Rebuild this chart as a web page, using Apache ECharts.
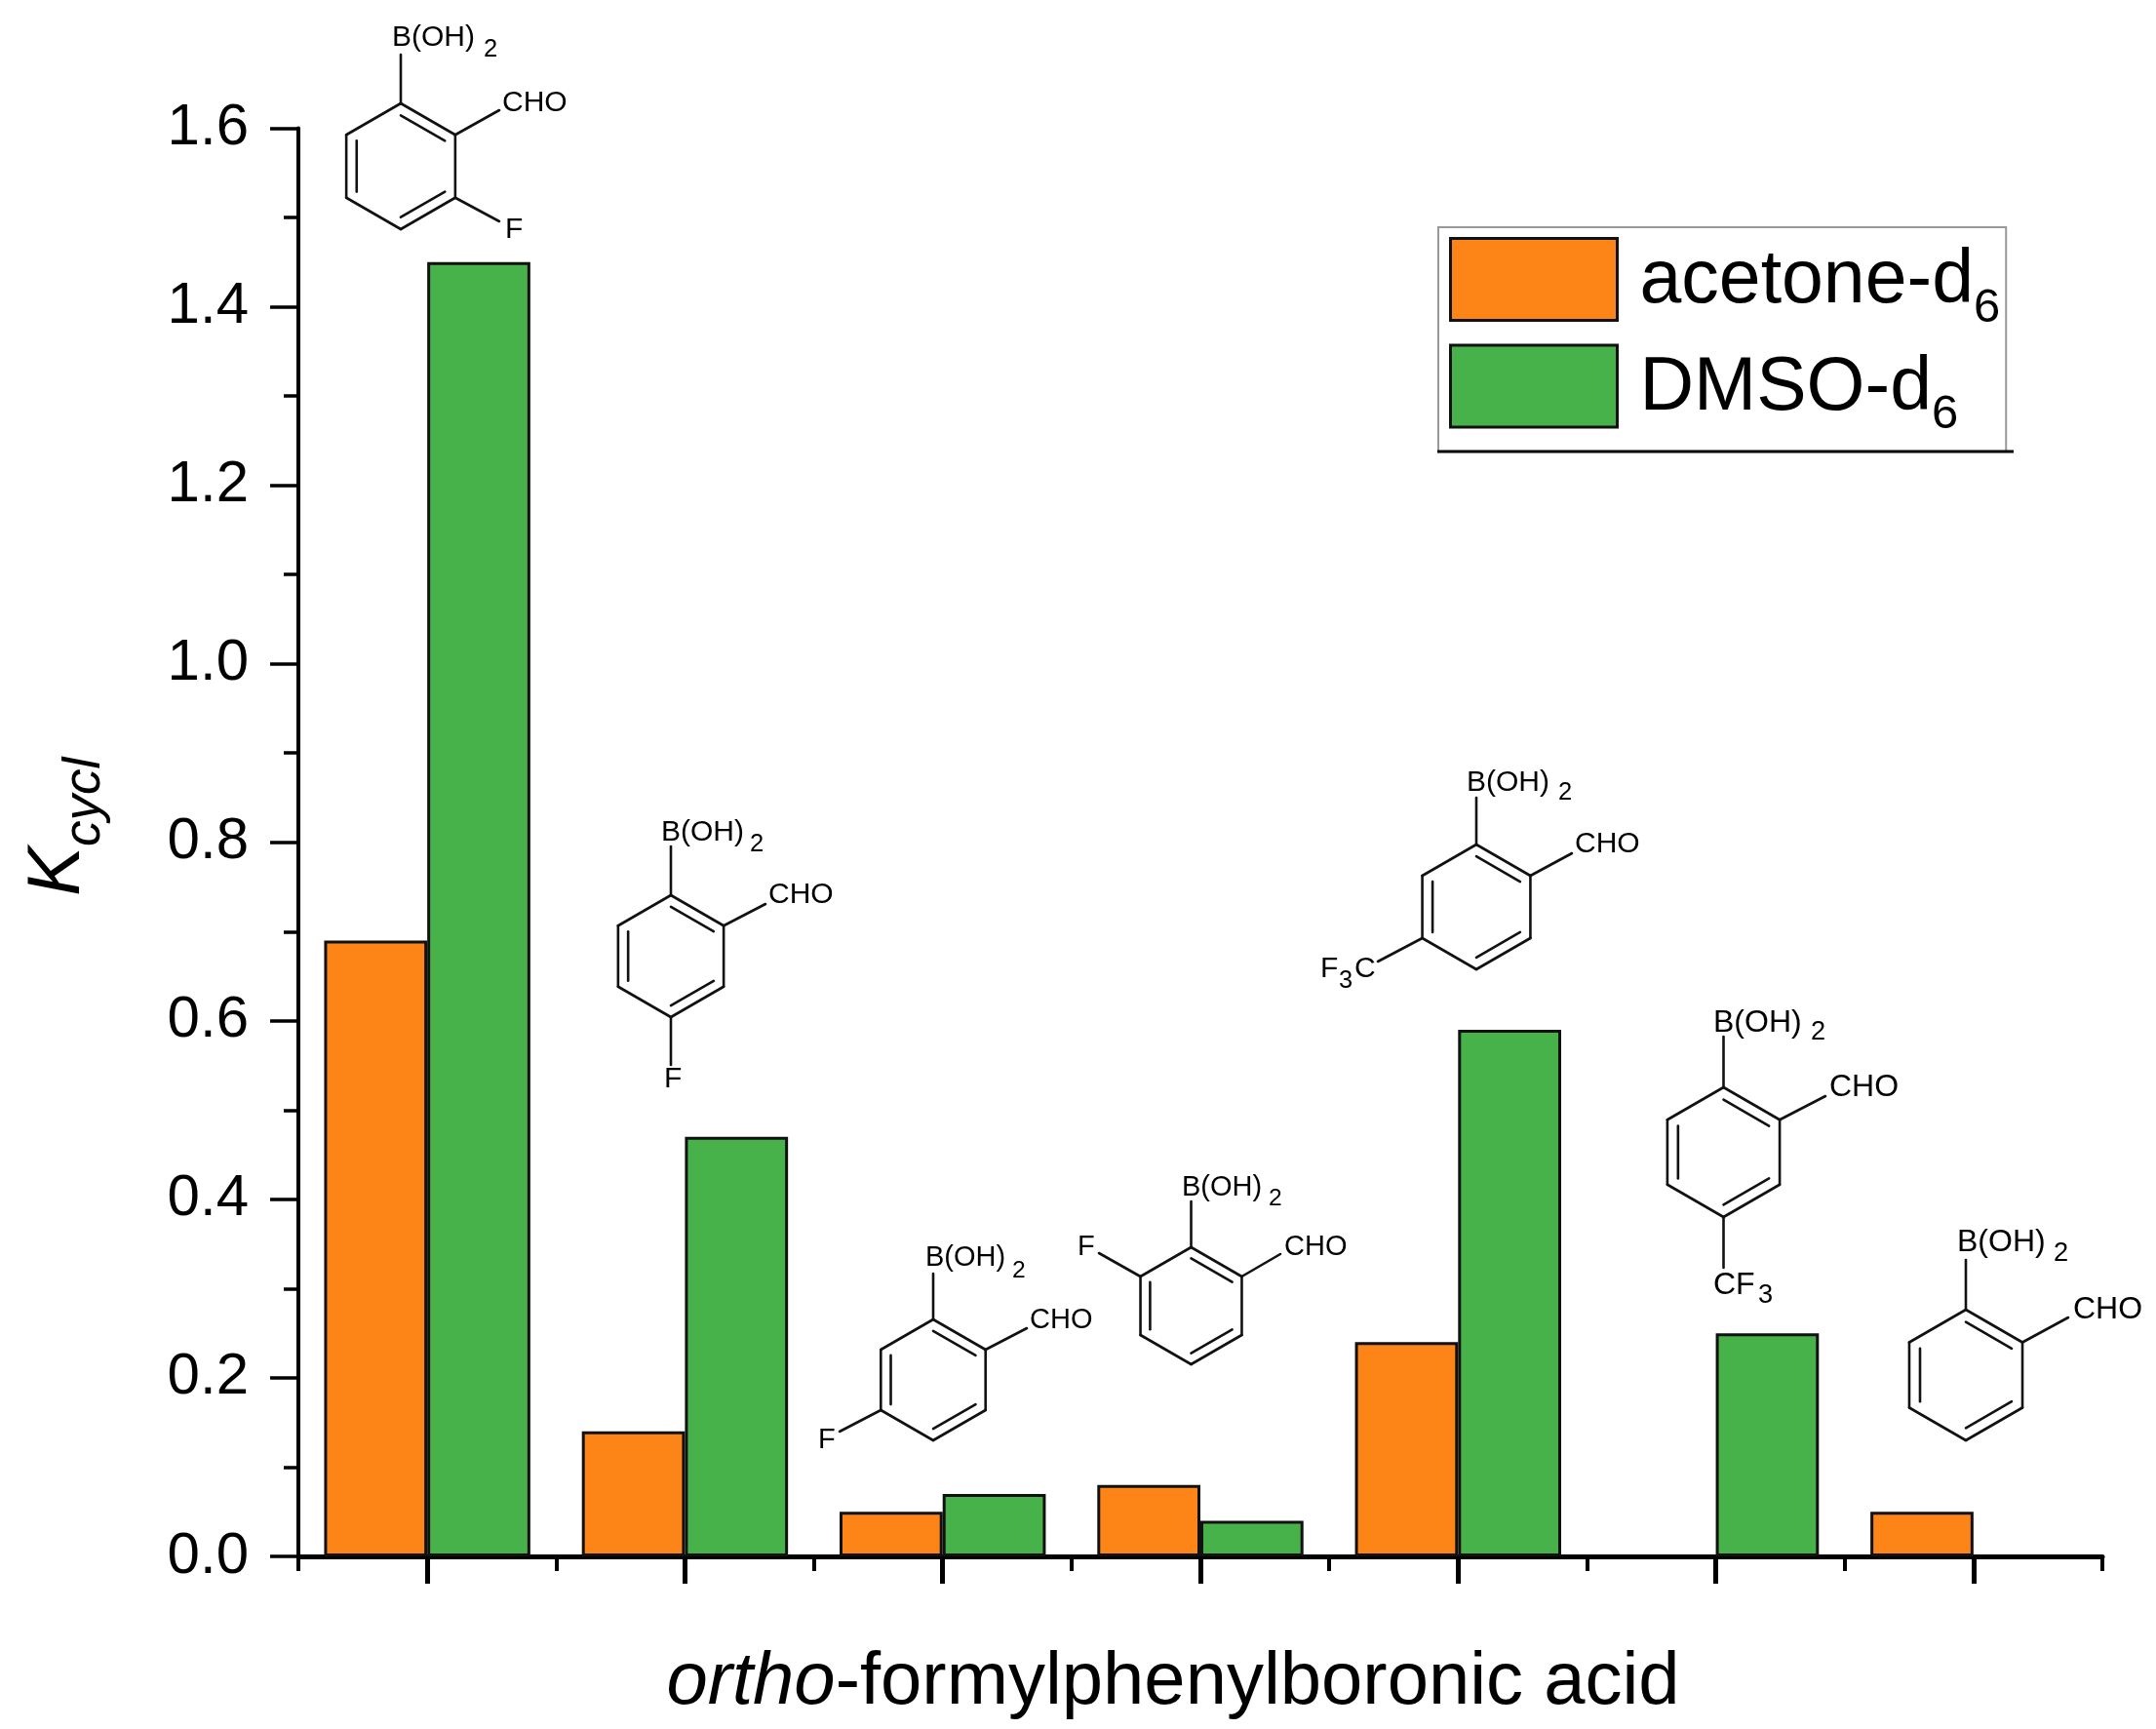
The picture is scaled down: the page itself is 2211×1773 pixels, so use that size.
<!DOCTYPE html>
<html><head><meta charset="utf-8">
<script src="https://cdn.jsdelivr.net/npm/echarts@6/dist/echarts.min.js"></script>
<style>html,body{margin:0;padding:0;background:#fff}#c{width:2211px;height:1773px}</style>
</head><body><div id="c"></div>
<script>
const categories = ['3-F','4-F','5-F','6-F','5-CF3','4-CF3','H'];
const acetone = [0.69,0.14,0.05,0.08,0.24,null,0.05];
const dmso = [1.45,0.47,0.07,0.04,0.59,0.25,null];
const seriesNames = ['acetone-d6','DMSO-d6'];
const FONT = '"Liberation Sans"';

/* Annotation sketches of the compounds (not data) */
const molecules = [
 {c:[411,170.5],R:64.5,f:30,bondB:56,bT:[402,38],b2:[496,50],cho:[515,105],choEnd:[512,113],
  sub:{from:2,end:[512,227]},labels:[['F',518,235]]},
 {c:[688,980.5],R:62.5,f:30,bondB:868,bT:[678,853],b2:[769,865],cho:[788,917],choEnd:[785,927],
  sub:{from:3,end:[688,1092]},labels:[['F',681,1106]]},
 {c:[957,1415],R:62,f:29,bondB:1306,bT:[949,1289],b2:[1038,1302],cho:[1056,1353],choEnd:[1053,1362],
  sub:{from:4,end:[861,1468]},labels:[['F',839,1476]]},
 {c:[1221.5,1339],R:60,f:29,bondB:1232,bT:[1212,1217],b2:[1301,1228],cho:[1317,1278],choEnd:[1313,1286],
  sub:{from:5,end:[1127,1285]},labels:[['F',1105,1278]]},
 {c:[1514,930],R:64,f:30,bondB:818,bT:[1504,802],b2:[1598,812],cho:[1615,865],choEnd:[1612,875],
  sub:{from:4,end:[1413,986]},labels:[['F',1354,993],['C',1389,993]],small:[['3',1373,1005]]},
 {c:[1767.5,1181.5],R:66.5,f:32,bondB:1063,bT:[1757,1048],b2:[1857,1058],cho:[1876,1114],choEnd:[1872,1124],
  sub:{from:3,end:[1767.5,1300]},labels:[['CF',1757,1317]],small:[['3',1803,1328]]},
 {c:[2016,1410],R:67,f:32,bondB:1292,bT:[2007,1273],b2:[2106,1285],cho:[2126,1342],choEnd:[2121,1351]}
];

function moleculeGraphics(m){
  const out=[], k=Math.PI/180, col='#111', lw=2.6;
  const V=[-90,-30,30,90,150,210].map(a=>[m.c[0]+m.R*Math.cos(a*k),m.c[1]+m.R*Math.sin(a*k)]);
  const inner=V.map(p=>[m.c[0]+(p[0]-m.c[0])*0.81,m.c[1]+(p[1]-m.c[1])*0.81]);
  const line=(a,b)=>out.push({type:'line',silent:true,shape:{x1:a[0],y1:a[1],x2:b[0],y2:b[1]},style:{stroke:col,lineWidth:lw,lineCap:'round'}});
  const text=(s,x,y,f)=>out.push({type:'text',silent:true,style:{text:s,x:x,y:y,font:f+'px '+FONT,fill:'#000',verticalAlign:'middle',align:'left'}});
  for(let i=0;i<6;i++) line(V[i],V[(i+1)%6]);
  [[0,1],[2,3],[4,5]].forEach(p=>line(inner[p[0]],inner[p[1]]));
  line(V[0],[V[0][0],m.bondB]);
  line(V[1],m.choEnd);
  if(m.sub) line(V[m.sub.from],m.sub.end);
  text('B(OH)',m.bT[0],m.bT[1]+1,m.f);
  text('2',m.b2[0],m.b2[1]+1,m.f*0.85);
  text('CHO',m.cho[0],m.cho[1]+1,m.f);
  (m.labels||[]).forEach(l=>text(l[0],l[1],l[2]+1,m.f));
  (m.small||[]).forEach(l=>text(l[0],l[1],l[2]+1,m.f*0.85));
  return out;
}

const chart = echarts.init(document.getElementById('c'),null,{renderer:'canvas'});
const black='#000';
chart.setOption({
  animation:false,
  backgroundColor:'#fff',
  textStyle:{fontFamily:FONT},
  grid:{left:306,top:131.5,width:1850,height:1464.5,containLabel:false,outerBoundsMode:'none'},
  legend:{
    orient:'vertical',left:1475,top:233,
    padding:[10,6,13,11],
    itemWidth:171,itemHeight:84,itemGap:12,
    icon:'rect',
    borderColor:'#999',borderWidth:2,
    itemStyle:{borderColor:'#111',borderWidth:3},
    data:seriesNames,
    formatter:n=>'{a|'+n.slice(0,-1)+'}{s|'+n.slice(-1)+'}',
    textStyle:{
      rich:{
        a:{fontFamily:FONT,fontSize:77,lineHeight:84,padding:[6,0,0,18],verticalAlign:'top',color:black},
        s:{fontFamily:FONT,fontSize:49,lineHeight:84,padding:[47,0,0,0],verticalAlign:'top',color:black}
      }
    }
  },
  xAxis:[{
    type:'category',data:categories,position:'bottom',
    boundaryGap:true,
    axisLine:{lineStyle:{color:black,width:5}},
    axisTick:{show:true,alignWithLabel:true,length:28,interval:0,lineStyle:{color:black,width:5}},
    axisLabel:{show:false},
    name:'{i|ortho}{n|-formylphenylboronic acid}',
    nameLocation:'middle',nameGap:92,
    nameTextStyle:{padding:[0,56,0,0],rich:{
      i:{fontFamily:FONT,fontStyle:'italic',fontSize:76,color:black},
      n:{fontFamily:FONT,fontSize:76,color:black}
    }}
  },{
    type:'category',data:categories,position:'bottom',
    boundaryGap:true,
    axisLine:{show:false},
    axisTick:{show:true,alignWithLabel:false,length:15,interval:0,lineStyle:{color:black,width:4}},
    axisLabel:{show:false}
  }],
  yAxis:{
    type:'value',min:0,max:1.6,interval:0.2,
    axisLine:{show:true,lineStyle:{color:black,width:4}},
    axisTick:{show:true,length:29,lineStyle:{color:black,width:3.5}},
    minorTick:{show:true,splitNumber:2,length:15,lineStyle:{color:black,width:3.5}},
    splitLine:{show:false},minorSplitLine:{show:false},
    axisLabel:{margin:51,fontFamily:FONT,fontSize:60,color:black,formatter:v=>v.toFixed(1)},
    name:'{k|K}{s|cycl}',
    nameLocation:'middle',nameRotate:90,nameGap:192,
    nameTextStyle:{padding:[0,0,0,32],rich:{
      k:{fontFamily:FONT,fontStyle:'italic',fontSize:76,lineHeight:92,verticalAlign:'top',color:black},
      s:{fontFamily:FONT,fontStyle:'italic',fontSize:53,lineHeight:92,verticalAlign:'bottom',color:black}
    }}
  },
  series:[
    {name:seriesNames[0],type:'bar',data:acetone,barGap:0,barCategoryGap:'20%',
     itemStyle:{color:'#FD8416',borderColor:'#111',borderWidth:3}},
    {name:seriesNames[1],type:'bar',data:dmso,barGap:0,barCategoryGap:'20%',
     itemStyle:{color:'#48B24A',borderColor:'#111',borderWidth:3}}
  ],
  graphic:{elements:[].concat(
    [{type:'line',silent:true,z:100,shape:{x1:1474,y1:463,x2:2065,y2:463},style:{stroke:'#000',lineWidth:3}}],
    ...molecules.map(moleculeGraphics)
  )}
});
</script></body></html>
